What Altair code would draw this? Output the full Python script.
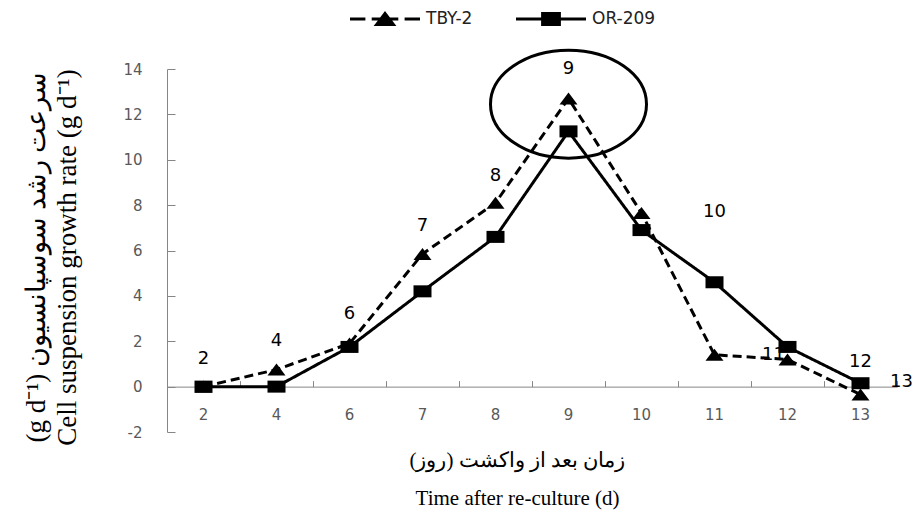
import altair as alt
import pandas as pd

# ---- data ----
days = ["2", "4", "6", "7", "8", "9", "10", "11", "12", "13"]
tby2 = [0.0, 0.75, 1.9, 5.85, 8.1, 12.7, 7.65, 1.4, 1.2, -0.35]
or209 = [0.0, 0.0, 1.75, 4.2, 6.6, 11.25, 6.9, 4.6, 1.75, 0.15]
series_names = ["TBY-2", "OR-209"]

# day annotations drawn on the plot (text, day position, value position)
label_text = ["2", "4", "6", "7", "8", "9", "10", "12"]
label_day = ["2", "4", "6", "7", "8", "9", "11", "13"]
label_val = [1.2, 2.0, 3.2, 7.1, 9.3, 14.0, 7.7, 1.1]
label11_val = 1.4      # "11" partly hidden behind the day-12 triangle
label13_val = 0.2      # "13" to the right of the last point
circle_day = "9"
circle_val = 12.45

y_ticks = [-2, 0, 2, 4, 6, 8, 10, 12, 14]

rows = []
for name, vals in zip(series_names, [tby2, or209]):
    for d, v in zip(days, vals):
        rows.append({"day": d, "rate": v, "series": name})
df = pd.DataFrame(rows)
lab = pd.DataFrame({"day": label_day, "rate": label_val, "txt": label_text})

W, H = 730, 363
GRAY = "#868686"
LGRAY = "#595959"

xscale = alt.Scale(domain=days, paddingInner=0, paddingOuter=0)
yscale = alt.Scale(domain=[-2, 14], nice=False, zero=False)

x_bottom = alt.X("day:N", scale=xscale, sort=days, axis=alt.Axis(
    orient="bottom", domain=False, ticks=False, labelPadding=0, offset=-25,
    labelAngle=0, labelFont="DejaVu Sans", labelFontSize=15, labelColor=LGRAY,
    title=["زمان بعد از واکشت (روز)\u200F", "Time after re-culture (d)"],
    titleFont="Liberation Serif", titleFontSize=21, titleFontWeight="normal",
    titleColor="black", titleLineHeight=38, titleX=350, titleY=53,
    titleBaseline="middle", titleAlign="center", grid=False))
y_left = alt.Y("rate:Q", scale=yscale, axis=alt.Axis(
    orient="left", domain=False, ticks=False, values=y_ticks, labelPadding=25,
    labelExpr="replace(datum.label, '\u2212', '-')",
    labelFont="DejaVu Sans", labelFontSize=15, labelColor=LGRAY, grid=False,
    title=["(g d⁻¹) سرعت رشد سوسپانسیون", "Cell suspension growth rate (g d⁻¹)"],
    titleFont="Liberation Serif", titleFontSize=27, titleFontWeight="normal",
    titleColor="black", titleLineHeight=31, titleAngle=270,
    titleX=-131, titleY=188, titleBaseline="middle", titleAlign="center"))

x_top = alt.X("day:N", scale=xscale, sort=days, axis=alt.Axis(
    orient="top", domain=True, domainColor=GRAY, ticks=True, tickColor=GRAY,
    tickSize=6, tickBand="extent", labels=False, title=None, grid=False,
    offset=-(H * 14 / 16)))
y_right = alt.Y("rate:Q", scale=yscale, axis=alt.Axis(
    orient="right", domain=True, domainColor=GRAY, ticks=True, tickColor=GRAY,
    tickSize=8, values=y_ticks, labels=False, title=None, grid=False, offset=-W))

x_plain = alt.X("day:N", scale=xscale, sort=days, axis=None)
y_plain = alt.Y("rate:Q", scale=yscale, axis=None)

text_font = dict(font="DejaVu Sans", fontSize=18, color="black",
                 align="center", baseline="middle")

labels = alt.Chart(lab).mark_text(**text_font).encode(
    x=x_bottom, y=y_left, text="txt:N")
lab11 = alt.Chart(pd.DataFrame({"day": ["12"], "rate": [label11_val], "txt": ["11"]})) \
    .mark_text(dx=-14, **text_font).encode(x=x_plain, y=y_plain, text="txt:N")
lab13 = alt.Chart(pd.DataFrame({"day": ["13"], "rate": [label13_val], "txt": ["13"]})) \
    .mark_text(dx=41, **text_font).encode(x=x_plain, y=y_plain, text="txt:N")

lines = alt.Chart(df).mark_line(color="black", strokeWidth=3).encode(
    x=x_top, y=y_right, detail="series:N",
    strokeDash=alt.StrokeDash("series:N", scale=alt.Scale(
        domain=series_names, range=[[9, 5], [1, 0]]), legend=None))

tri = "M -1 0.667 L 0 -0.667 L 1 0.667 Z"
sq = "M -1 -0.667 L 1 -0.667 L 1 0.667 L -1 0.667 Z"
pts_t = alt.Chart(df).transform_filter(alt.datum.series == "TBY-2").mark_point(
    shape=tri, size=324, filled=True, color="black", opacity=1).encode(x=x_plain, y=y_plain)
pts_s = alt.Chart(df).transform_filter(alt.datum.series == "OR-209").mark_point(
    shape=sq, size=324, filled=True, color="black", opacity=1).encode(x=x_plain, y=y_plain)

ellipse = alt.Chart(pd.DataFrame({"day": [circle_day], "rate": [circle_val]})).mark_point(
    shape="M -1 0 A 1 0.692 0 1 1 1 0 A 1 0.692 0 1 1 -1 0", size=156 * 156,
    filled=False, stroke="black", strokeWidth=3, opacity=1).encode(x=x_plain, y=y_plain)

# ---- legend (drawn as marks above the plot area) ----
leg_tby = ("M -5 0 L -2.8 0 M -1.9 0 L 1.9 0 M 2.8 0 L 5 0 "
           "M -1.2 0.8 L 0 -0.8 L 1.2 0.8 Z")
leg_or = "M -5 0 L 5 0 M -1.2 -0.8 L 1.2 -0.8 L 1.2 0.8 L -1.2 0.8 Z"
leg_paths = [leg_tby, leg_or]
leg_sym_x = [218, 384]
leg_txt_x = [259, 425]
leg_y = -50

legend_layers = []
for name, path, sx, tx in zip(series_names, leg_paths, leg_sym_x, leg_txt_x):
    one = pd.DataFrame({"series": [name]})
    legend_layers.append(alt.Chart(one).mark_point(
        shape=path, size=196, filled=True, color="black", stroke="black",
        strokeWidth=3, opacity=1).encode(x=alt.value(sx), y=alt.value(leg_y)))
    legend_layers.append(alt.Chart(one).mark_text(
        font="DejaVu Sans", fontSize=17, color="#222222", align="left",
        baseline="middle").encode(x=alt.value(tx), y=alt.value(leg_y), text="series:N"))

chart = alt.layer(labels, lab11, lab13, lines, pts_t, pts_s, ellipse, *legend_layers).resolve_axis(
    x="independent", y="independent"
).properties(
    width=W, height=H,
    autosize=alt.AutoSizeParams(type="none"),
    padding={"left": 167, "top": 69, "right": 20, "bottom": 85},
    background="white",
).configure_view(stroke=None)

chart.save("out.html", embed_options={"renderer": "svg", "actions": False})
